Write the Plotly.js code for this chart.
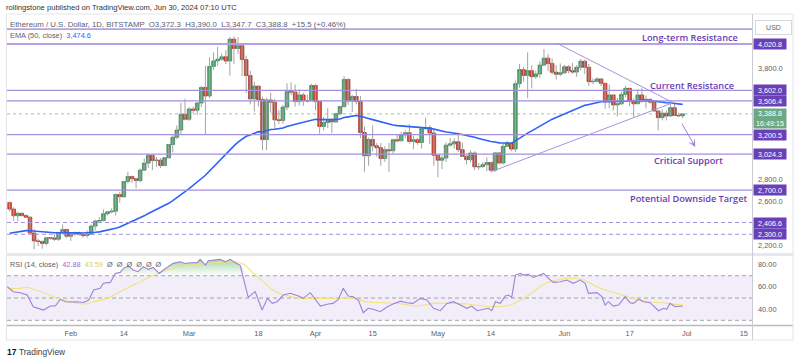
<!DOCTYPE html>
<html><head><meta charset="utf-8">
<script src="https://cdn.plot.ly/plotly-3.0.1.min.js"></script>
<style>html,body{margin:0;padding:0;background:#fff;}#chart{width:800px;height:364px;}</style>
</head><body><div id="chart"></div>
<script>
// ---------- DATA (ETH/USD daily, Bitstamp) ----------
const firstDay = '2024-01-17';
const open = [2587,2528,2468,2490,2470,2455,2312,2240,2236,2218,2268,2267,2256,2317,2344,2283,2303,2309,2297,2289,
2300,2374,2420,2424,2486,2503,2509,2659,2640,2777,2823,2803,2786,2880,2944,3014,2967,2970,2922,2992,
3112,3177,3243,3385,3340,3433,3422,3487,3628,3551,3818,3868,3883,3905,3867,4065,3980,4005,3880,3735,
3525,3640,3519,3157,3515,3495,3335,3330,3450,3590,3587,3500,3560,3508,3508,3645,3500,3275,3311,3329,
3317,3390,3455,3700,3505,3546,3500,3220,3010,3157,3100,3083,2985,3065,3056,3155,3146,3200,3218,3140,
3155,3130,3255,3263,3216,3014,2970,2990,3105,3118,3137,3065,3005,2975,3035,2910,2912,2930,2950,2880,
3036,2945,3095,3123,3071,3662,3789,3737,3780,3725,3750,3830,3893,3845,3765,3747,3760,3815,3780,3767,
3810,3865,3810,3680,3683,3705,3665,3500,3560,3470,3480,3565,3620,3510,3480,3560,3515,3520,3495,3415,
3355,3395,3370,3445,3375,3372.3];
const high = [2595,2545,2505,2495,2480,2460,2350,2260,2240,2275,2275,2300,2320,2390,2350,2310,2325,2325,2310,2335,
2390,2435,2455,2525,2510,2535,2670,2685,2785,2865,2830,2810,2895,2985,3030,3020,3000,2990,3000,3115,
3195,3285,3490,3525,3450,3455,3495,3640,3825,3900,3945,3995,3935,3965,4085,4090,4085,4010,3915,3780,
3680,3640,3545,3535,3580,3525,3425,3470,3665,3675,3655,3610,3580,3560,3660,3660,3500,3360,3440,3350,
3400,3460,3730,3710,3560,3615,3550,3275,3175,3285,3125,3125,3095,3125,3165,3200,3225,3240,3295,3190,
3170,3255,3355,3285,3250,3020,3015,3130,3170,3170,3220,3130,3020,3060,3050,2945,2955,2995,2955,3045,
3045,3120,3145,3130,3690,3840,3815,3945,3830,3780,3865,3975,3930,3890,3830,3845,3833,3830,3850,3830,
3885,3880,3840,3710,3720,3710,3670,3655,3565,3535,3590,3640,3620,3530,3610,3625,3555,3530,3505,3425,
3430,3420,3480,3490,3400,3390];
const low = [2505,2420,2420,2460,2450,2300,2165,2195,2170,2200,2250,2240,2240,2300,2265,2240,2285,2290,2270,2270,
2295,2335,2410,2415,2470,2490,2470,2585,2630,2760,2765,2715,2770,2875,2900,2880,2910,2900,2915,2985,
3040,3160,3200,3330,3325,3395,3380,3450,3200,3530,3785,3825,3870,3840,3735,3840,3930,3730,3575,3475,
3410,3455,3060,3060,3400,3250,3295,3300,3420,3560,3455,3465,3460,3490,3505,3420,3210,3240,3260,3215,
3305,3375,3445,3470,3405,3475,3170,2865,2920,3050,3000,2920,2955,2865,3030,3130,3140,3170,3120,3070,
3110,3075,3245,3115,2920,2815,2890,2955,3095,3075,3045,3000,2935,2950,2880,2885,2900,2870,2860,2865,
2930,2930,3090,3050,3045,3625,3680,3530,3620,3705,3715,3820,3775,3745,3700,3730,3750,3755,3750,3725,
3780,3750,3640,3660,3675,3640,3435,3440,3420,3365,3470,3540,3460,3360,3480,3490,3440,3480,3410,3240,
3330,3330,3360,3370,3360,3347.7];
const close = [2528,2468,2490,2470,2455,2312,2240,2236,2218,2268,2267,2256,2317,2344,2283,2303,2309,2297,2289,2300,
2374,2420,2424,2486,2503,2509,2659,2640,2777,2823,2803,2786,2880,2944,3014,2967,2970,2922,2992,3112,
3177,3243,3385,3340,3433,3422,3487,3628,3551,3818,3868,3883,3905,3867,4065,3980,4005,3880,3735,3525,
3640,3519,3157,3515,3495,3335,3330,3450,3590,3587,3500,3560,3508,3508,3645,3500,3275,3311,3329,3317,
3390,3455,3700,3505,3546,3500,3220,3010,3157,3100,3083,2985,3065,3056,3155,3146,3200,3218,3140,3155,
3130,3255,3263,3216,3014,2970,2990,3105,3118,3137,3065,3005,2975,3035,2910,2912,2930,2950,2880,3036,
2945,3095,3123,3071,3662,3789,3737,3780,3725,3750,3830,3893,3845,3765,3747,3760,3815,3780,3767,3810,
3865,3810,3680,3683,3705,3665,3500,3560,3470,3480,3565,3620,3510,3480,3560,3515,3520,3495,3415,3355,
3395,3370,3445,3375,3372.3,3388.8];
const ema50 = [2309,2315,2322,2328,2333,2332,2328,2325,2321,2319,2317,2314,2314,2315,2314,2314,2314,2313,2312,2312,
2314,2318,2322,2329,2336,2342,2355,2366,2382,2399,2415,2430,2447,2467,2488,2507,2525,2541,2558,2580,
2604,2629,2658,2685,2714,2742,2771,2805,2834,2873,2912,2950,2987,3022,3063,3099,3134,3163,3186,3199,
3216,3228,3225,3237,3247,3250,3253,3261,3274,3286,3295,3305,3313,3321,3333,3340,3337,3336,3336,3335,
3338,3342,3356,3362,3369,3374,3368,3354,3347,3337,3327,3314,3304,3294,3289,3283,3280,3277,3272,3267,
3262,3262,3262,3260,3250,3239,3230,3225,3221,3217,3211,3203,3194,3188,3177,3167,3157,3149,3139,3135,
3127,3126,3126,3124,3145,3170,3192,3215,3235,3256,3278,3302,3323,3341,3357,3372,3390,3405,3419,3435,
3452,3466,3474,3482,3491,3498,3498,3500,3499,3498,3501,3506,3506,3505,3507,3507,3508,3507,3504,3498,
3494,3489,3487,3483,3479,3474.6];
const rsiDay = [-0.6,0.9,2.6,4.3,5.8,7.5,8.3,10.0,11.2,12.4,13.7,14.9,16.5,18.1,19.4,20.6,22.2,23.0,24.7,25.9,
27.1,27.9,29.1,30.3,31.5,32.8,34.0,35.2,36.7,37.7,38.9,40.1,41.8,43.1,44.3,46.0,46.7,48.0,48.7,49.9,
51.6,52.9,54.1,55.3,56.5,58.5,60.2,61.9,63.2,64.4,65.6,67.1,68.8,70.8,72.0,73.7,76.2,78.1,79.3,80.6,
81.8,83.0,84.2,85.5,86.7,87.9,89.1,90.9,92.6,94.0,95.8,97.4,98.9,100.7,102.3,103.9,105.6,107.2,108.8,110.5,
112.1,113.3,114.6,116.2,117.4,118.2,119.1,120.3,121.5,122.3,123.1,124.0,125.2,126.0,127.2,128.4,129.7,130.9,132.1,133.3,
135.0,136.6,138.2,139.9,141.1,141.9,144.0,145.2,146.0,146.8,148.0,149.3,150.9,152.1,152.9,154.2,155.4,157.0,159.1,160.3,
161.1,161.9,163.2,165.0];
const rsiVal = [60.1,55.7,54.8,52.7,42.2,39.9,39.2,42.8,42.8,48.8,46.7,46.4,46.7,46.0,48.2,57.2,58.7,63.2,64.0,72.1,
73.0,76.6,78.7,75.1,73.6,78.1,75.7,77.5,72.1,75.1,78.0,81.1,82.5,81.0,81.7,81.7,84.7,79.6,83.5,84.0,
84.7,82.5,84.7,81.7,79.6,50.6,55.7,39.2,49.7,45.2,46.7,52.7,54.2,51.8,49.7,54.8,42.8,44.6,45.2,48.8,
58.7,51.8,51.2,48.2,36.8,40.8,39.9,37.7,42.2,44.6,47.2,45.8,45.2,49.7,48.2,40.8,38.6,45.2,46.7,43.7,
40.8,42.8,38.6,39.9,40.8,38.6,46.7,45.2,51.8,52.7,50.6,70.6,72.1,70.6,71.2,68.5,70.6,72.1,67.6,64.0,
64.6,66.1,63.2,66.1,63.2,54.2,54.8,51.2,43.7,46.7,42.8,43.7,51.2,45.8,45.2,48.8,46.7,45.8,38.6,40.8,
39.9,45.2,42.2,42.88];
const rsiMaDay = [-0.6,2.6,4.3,5.8,8.3,10.7,14.1,18.1,20.6,23.9,27.1,30.3,34.5,38.6,42.6,46.7,50.8,54.8,57.3,59.7,
62.2,64.6,68.1,71.3,75.3,79.3,84.2,87.6,91.6,95.8,99.8,103.8,108.0,112.1,116.2,118.6,122.7,126.0,128.4,131.7,
135.0,137.4,140.7,144.8,148.9,152.9,157.0,161.1,165.0];
const rsiMaVal = [58.7,58.7,59.6,57.8,54.8,51.2,47.6,44.6,46.7,49.7,55.7,61.7,69.1,75.1,78.7,80.5,81.7,82.6,80.5,72.5,
64.5,57.0,52.0,49.7,49.7,49.7,49.7,46.7,45.8,45.0,42.8,45.2,45.2,44.6,42.8,42.2,43.7,49.7,55.7,63.7,
66.8,67.7,66.1,58.7,54.2,49.7,46.7,45.2,43.59];
const solidLevels = [4020.8, 3602.0, 3506.4, 3200.5, 3024.3, 2700.0];
const topLevel = 4155;
const dashedLevels = [2406.6, 2300.0];
const lastPrice = 3388.8;
const countdown = '16:49:15';
const priceTicks = [2200, 2600, 2800, 3800];
const rsiTicks = [40, 60, 80];
const timeTickDates = ['2024-02-01','2024-02-14','2024-03-01','2024-03-18','2024-04-01','2024-04-15','2024-05-01','2024-05-14','2024-06-01','2024-06-17','2024-07-01','2024-07-15'];
const timeTickText = ['Feb','14','Mar','18','Apr','15','May','14','Jun','17','Jul','15'];

// ---------- helpers ----------
const DAY = 86400000;
const T0 = Date.parse(firstDay + 'T00:00:00Z');
function dt(d){ return new Date(T0 + Math.round(d*DAY)).toISOString().slice(0,19).replace('T',' '); }
const fmt = v => v.toLocaleString('en-US',{minimumFractionDigits:1, maximumFractionDigits:1});
const L=7, R=48, T=14, B=39, W=800-L-R, H=364-T-B;
const px = x => (x - L)/W;
const py = y => 1 - (y - T)/H;

const dates = close.map((_, i) => dt(i));
const bodyHi = close.map((c, i) => Math.max(c, open[i]));
const bodyLo = close.map((c, i) => Math.min(c, open[i]));
const wx = [], wy = [];
dates.forEach((d, i) => { wx.push(d, d, null); wy.push(low[i], high[i], null); });
const rsiX = rsiDay.map(dt), rsiMaX = rsiMaDay.map(dt);

const FONT = 'Liberation Sans, Arial, sans-serif';
const lineCol = '#a48fdb', boxCol = '#6a40b8', textPurple = '#6a3cb5';

const traces = [
  {type:'scatter', mode:'lines', x:wx, y:wy, line:{color:'#a3a3a3', width:1}, hoverinfo:'skip', xaxis:'x', yaxis:'y', connectgaps:false},
  {type:'candlestick', x:dates, open:open, close:close, high:bodyHi, low:bodyLo, whiskerwidth:0,
   increasing:{line:{color:'#3f865a', width:0.8}, fillcolor:'#5aa273'},
   decreasing:{line:{color:'#ad3a2b', width:0.8}, fillcolor:'#d24c3b'},
   hoverinfo:'skip', xaxis:'x', yaxis:'y'},
  {type:'scatter', mode:'lines', x:dates, y:ema50, line:{color:'#2e62f5', width:1.6}, hoverinfo:'skip', xaxis:'x', yaxis:'y'},
  // RSI overbought fill
  {type:'scatter', mode:'lines', x:rsiX, y:rsiX.map(() => 70), line:{width:0}, hoverinfo:'skip', xaxis:'x', yaxis:'y2'},
  {type:'scatter', mode:'lines', x:rsiX, y:rsiVal.map(v => Math.max(v, 70)), line:{width:0}, fill:'tonexty',
   fillgradient:{type:'vertical', start:70, stop:86, colorscale:[[0,'rgba(76,175,80,0)'],[1,'rgba(76,175,80,0.55)']]},
   hoverinfo:'skip', xaxis:'x', yaxis:'y2'},
  {type:'scatter', mode:'lines', x:rsiMaX, y:rsiMaVal, line:{color:'#f3e27a', width:1.1, shape:'spline'}, hoverinfo:'skip', xaxis:'x', yaxis:'y2'},
  {type:'scatter', mode:'lines', x:rsiX, y:rsiVal, line:{color:'#9c82d8', width:1.1}, hoverinfo:'skip', xaxis:'x', yaxis:'y2'}
];

const shapes = [];
// pane backgrounds / separators
shapes.push({type:'rect', xref:'paper', yref:'y2', x0:0, x1:1, y0:30, y1:70, fillcolor:'rgba(126,87,194,0.10)', line:{width:0}, layer:'below'});
[70,50,30].forEach(v => shapes.push({type:'line', xref:'paper', yref:'y2', x0:0, x1:1, y0:v, y1:v, line:{color:'#a0a3ab', width:1, dash:'4px,3px'}, layer:'below'}));
shapes.push({type:'rect', xref:'paper', yref:'paper', x0:px(6.5), x1:px(793), y0:py(256), y1:py(253), fillcolor:'#e6e8ee', line:{width:0}});
shapes.push({type:'line', xref:'paper', yref:'paper', x0:px(6.5), x1:px(793), y0:py(325.5), y1:py(325.5), line:{color:'#b8bbc3', width:1.5}});
shapes.push({type:'line', xref:'paper', yref:'paper', x0:px(752.5), x1:px(752.5), y0:py(340), y1:py(14), line:{color:'#c9ccd3', width:1}});
shapes.push({type:'rect', xref:'paper', yref:'paper', x0:px(6.5), x1:px(793), y0:py(340), y1:py(14), line:{color:'#e3e5ea', width:1}, fillcolor:'rgba(0,0,0,0)'});
// horizontal levels
shapes.push({type:'line', xref:'paper', yref:'y', x0:0, x1:1, y0:topLevel, y1:topLevel, line:{color:'#b3a2e3', width:1.8}});
solidLevels.forEach((v, k) => shapes.push({type:'line', xref:'paper', yref:'y', x0:0, x1:1, y0:v, y1:v, line:{color: k===0 ? '#b3a2e3' : lineCol, width: k===0 ? 1.8 : 1.3}}));
dashedLevels.forEach(v => shapes.push({type:'line', xref:'paper', yref:'y', x0:0, x1:1, y0:v, y1:v, line:{color:lineCol, width:1, dash:'4px,3px'}}));
shapes.push({type:'line', xref:'paper', yref:'y', x0:0, x1:1, y0:lastPrice, y1:lastPrice, line:{color:'#9fc2aa', width:1, dash:'dot'}, layer:'below'});
// triangle trendlines
shapes.push({type:'line', xref:'x', yref:'y', x0:dt(134.2), y0:4027, x1:dt(162.8), y1:3488, line:{color:'#a893dd', width:1}});
shapes.push({type:'line', xref:'x', yref:'y', x0:dt(118.2), y0:2868, x1:dt(162.8), y1:3492, line:{color:'#a893dd', width:1}});

const ann = [];
const small = (t, x, y, size, color, extra) => Object.assign({xref:'paper', yref:'paper', x:px(x), y:py(y), xanchor:'left', yanchor:'middle', text:t, showarrow:false, font:{family:FONT, size:size, color:color}}, extra||{});
ann.push(small('rollingstone published on TradingView.com, Jun 30, 2024 07:10 UTC', 4, 7, 7.6, '#333'));
ann.push(small('Ethereum / U.S. Dollar, 1D, BITSTAMP  O3,372.3  H3,390.0  L3,347.7  C3,388.8  +15.5 (+0.46%)', 8, 24.5, 7.8, '#5d606b'));
ann.push(small('EMA (50, close)  <span style="color:#2e62f5">3,474.6</span>', 8, 36, 7.4, '#5d606b'));
ann.push(small('RSI (14, close)  <span style="color:#8d6fd1">42.88</span>  <span style="color:#e8cf4a">43.59</span>  Ø  Ø  Ø  Ø  Ø  Ø', 8, 264, 7.3, '#5d606b'));
ann.push(small('TradingView', 17, 352.5, 8.4, '#3a3d46'));
ann.push(small('<b>17</b>', 5, 352.5, 8.5, '#131722'));
// level captions
const cap = (t, x, price) => ({xref:'paper', yref:'y', x:px(x), y:price, xanchor:'center', yanchor:'middle', text:t, showarrow:false, font:{family:'Open Sans, Liberation Sans, sans-serif', size:9.2, color:textPurple, weight:600}});
ann.push(cap('Long-term Resistance', 690, 4077));
ann.push(cap('Current Resistance', 692, 3644));
ann.push(cap('Critical Support', 688, 2966));
ann.push(cap('Potential Downside Target', 688, 2626));
// price axis boxes
solidLevels.concat(dashedLevels).forEach(v => ann.push({xref:'paper', yref:'y', x:1, xshift:1, y:v, xanchor:'left', yanchor:'middle',
  text:fmt(v), showarrow:false, bgcolor:boxCol, width:31, height:9, borderpad:0.5, align:'center', font:{family:FONT, size:7.2, color:'#fff'}}));
ann.push({xref:'paper', yref:'y', x:1, xshift:1, y:lastPrice, xanchor:'left', yanchor:'top', yshift:5.5,
  text:fmt(lastPrice) + '<br>' + countdown, showarrow:false, bgcolor:'#6ea883', width:31, height:18, borderpad:0.5, align:'center', font:{family:FONT, size:7.2, color:'#fff'}});
ann.push({xref:'paper', yref:'paper', x:px(773.5), y:py(27.5), xanchor:'center', yanchor:'middle', text:'USD', showarrow:false,
  bgcolor:'#fff', bordercolor:'#d6d8de', borderwidth:1, width:33, height:11, font:{family:FONT, size:7, color:'#5d606b'}});
// arrow
ann.push({xref:'x', yref:'y', axref:'x', ayref:'y', x:dt(168.1), y:3090, ax:dt(164.6), ay:3315, text:'', showarrow:true,
  arrowhead:3, arrowsize:1.3, arrowwidth:1, arrowcolor:'#9c84da'});

const layout = {
  width:800, height:364, margin:{l:L, r:R, t:T, b:B}, paper_bgcolor:'#fff', plot_bgcolor:'#fff',
  showlegend:false, boxgap:0.12, boxgroupgap:0,
  xaxis:{type:'date', range:[dt(-0.64), dt(182.0)], anchor:'y2', showgrid:false, zeroline:false, showline:false,
    rangeslider:{visible:false}, tickvals:timeTickDates, ticktext:timeTickText, ticks:'', ticklabelstandoff:3, tickfont:{family:FONT, size:7.4, color:'#5d606b'}},
  yaxis:{domain:[py(253), 1], range:[2131, 4292], side:'right', anchor:'x', showgrid:false, zeroline:false, showline:false,
    tickvals:priceTicks, ticktext:priceTicks.map(fmt), ticks:'', ticklabelstandoff:5, tickfont:{family:FONT, size:7.4, color:'#5d606b'}},
  yaxis2:{domain:[0, py(256)], range:[25.8, 87.7], side:'right', anchor:'x', showgrid:false, zeroline:false, showline:false,
    tickvals:rsiTicks, ticktext:rsiTicks.map(v => v.toFixed(2)), ticks:'', ticklabelstandoff:5, tickfont:{family:FONT, size:7.4, color:'#5d606b'}},
  shapes:shapes, annotations:ann
};
Plotly.newPlot('chart', traces, layout, {displayModeBar:false, staticPlot:true});
</script></body></html>
